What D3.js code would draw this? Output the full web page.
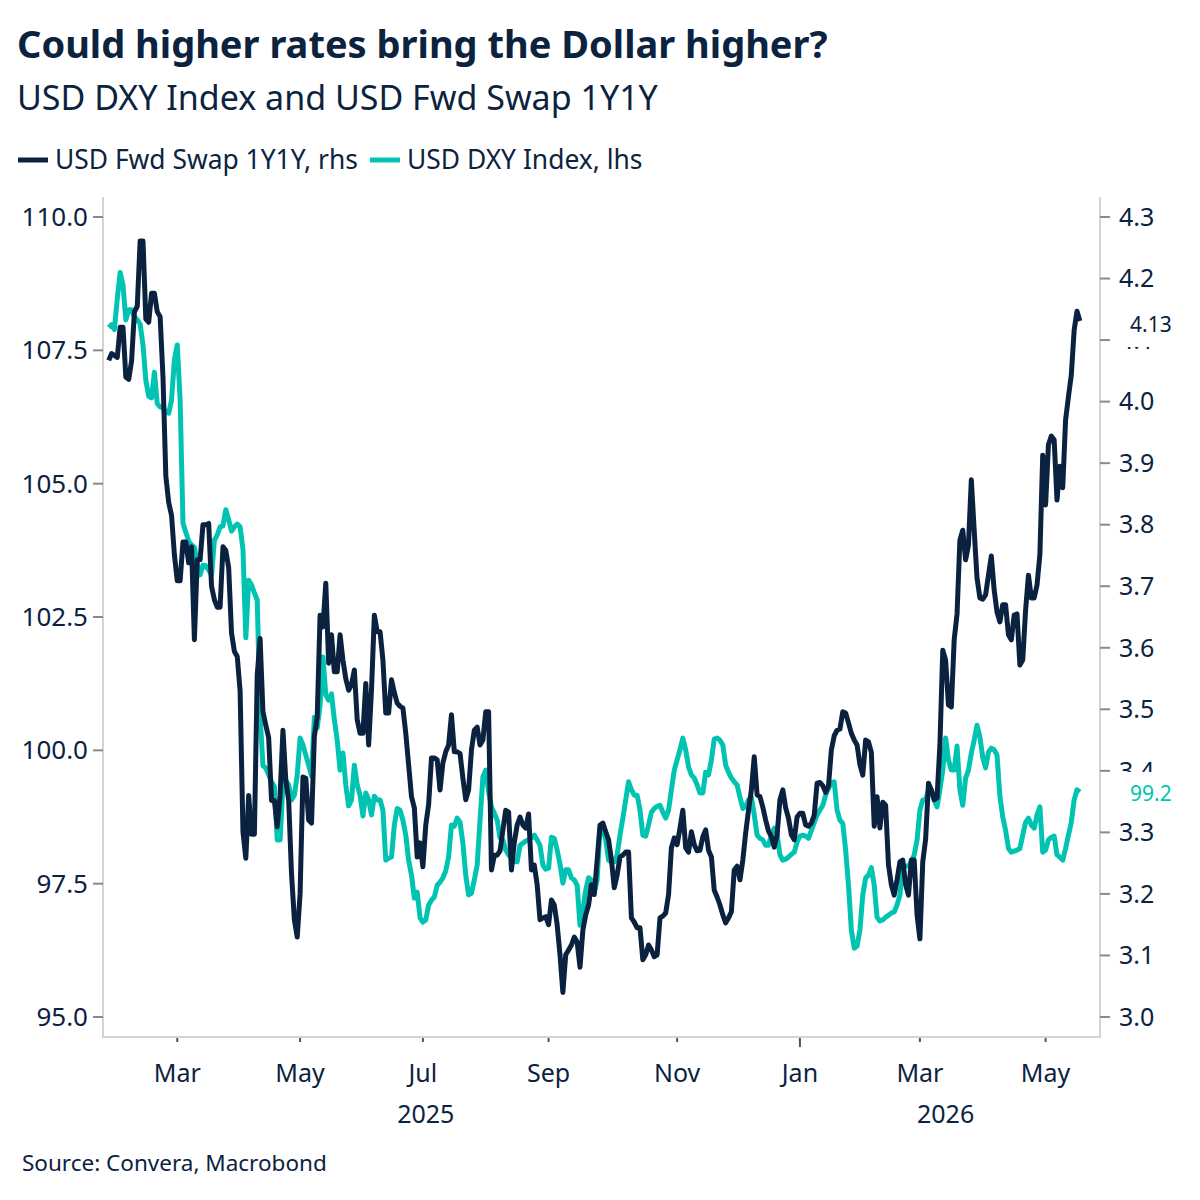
<!DOCTYPE html>
<html>
<head>
<meta charset="utf-8">
<script src="https://cdn.jsdelivr.net/npm/d3@7"></script>
<style>
  body { margin: 0; background: #fff; }
  svg text { font-family: "Noto Sans", sans-serif; fill: #0c2340; }
</style>
</head>
<body>
<svg id="chart" width="1200" height="1200"></svg>
<script>
// USD Fwd Swap 1Y1Y (rhs), daily business days
const swapSeries = [
  ["2025-01-28",4.067],["2025-01-29",4.078],["2025-01-30",4.075],["2025-01-31",4.072],
  ["2025-02-03",4.121],["2025-02-04",4.121],["2025-02-05",4.040],["2025-02-06",4.036],["2025-02-07",4.066],
  ["2025-02-10",4.146],["2025-02-11",4.155],["2025-02-12",4.261],["2025-02-13",4.261],["2025-02-14",4.134],
  ["2025-02-17",4.129],["2025-02-18",4.176],["2025-02-19",4.176],["2025-02-20",4.146],["2025-02-21",4.138],
  ["2025-02-24",4.040],["2025-02-25",3.879],["2025-02-26",3.836],["2025-02-27",3.815],["2025-02-28",3.751],
  ["2025-03-03",3.709],["2025-03-04",3.709],["2025-03-05",3.772],["2025-03-06",3.772],["2025-03-07",3.738],
  ["2025-03-10",3.764],["2025-03-11",3.613],["2025-03-12",3.743],["2025-03-13",3.743],["2025-03-14",3.800],
  ["2025-03-17",3.800],["2025-03-18",3.802],["2025-03-19",3.700],["2025-03-20",3.678],["2025-03-21",3.666],
  ["2025-03-24",3.666],["2025-03-25",3.764],["2025-03-26",3.758],["2025-03-27",3.730],["2025-03-28",3.624],
  ["2025-03-31",3.594],["2025-04-01",3.586],["2025-04-02",3.530],["2025-04-03",3.301],["2025-04-04",3.258],
  ["2025-04-07",3.360],["2025-04-08",3.297],["2025-04-09",3.297],["2025-04-10",3.556],["2025-04-11",3.615],
  ["2025-04-14",3.496],["2025-04-15",3.474],["2025-04-16",3.454],["2025-04-17",3.352],["2025-04-18",3.352],
  ["2025-04-21",3.309],["2025-04-22",3.360],["2025-04-23",3.466],["2025-04-24",3.385],["2025-04-25",3.352],
  ["2025-04-28",3.233],["2025-04-29",3.158],["2025-04-30",3.130],["2025-05-01",3.200],["2025-05-02",3.390],
  ["2025-05-05",3.388],["2025-05-06",3.320],["2025-05-07",3.315],["2025-05-08",3.456],["2025-05-09",3.488],
  ["2025-05-12",3.653],["2025-05-13",3.634],["2025-05-14",3.705],["2025-05-15",3.575],["2025-05-16",3.621],
  ["2025-05-19",3.561],["2025-05-20",3.561],["2025-05-21",3.621],["2025-05-22",3.580],["2025-05-23",3.550],
  ["2025-05-26",3.531],["2025-05-27",3.540],["2025-05-28",3.564],["2025-05-29",3.483],["2025-05-30",3.461],
  ["2025-06-02",3.461],["2025-06-03",3.542],["2025-06-04",3.442],["2025-06-05",3.531],["2025-06-06",3.653],
  ["2025-06-09",3.626],["2025-06-10",3.626],["2025-06-11",3.580],["2025-06-12",3.494],["2025-06-13",3.494],
  ["2025-06-16",3.548],["2025-06-17",3.527],["2025-06-18",3.510],["2025-06-19",3.505],["2025-06-20",3.502],
  ["2025-06-23",3.461],["2025-06-24",3.410],["2025-06-25",3.358],["2025-06-26",3.340],["2025-06-27",3.260],
  ["2025-06-30",3.283],["2025-07-01",3.244],["2025-07-02",3.312],["2025-07-03",3.345],["2025-07-04",3.421],
  ["2025-07-07",3.421],["2025-07-08",3.418],["2025-07-09",3.369],["2025-07-10",3.413],["2025-07-11",3.431],
  ["2025-07-14",3.442],["2025-07-15",3.491],["2025-07-16",3.431],["2025-07-17",3.431],["2025-07-18",3.428],
  ["2025-07-21",3.388],["2025-07-22",3.353],["2025-07-23",3.369],["2025-07-24",3.434],["2025-07-25",3.466],
  ["2025-07-28",3.471],["2025-07-29",3.442],["2025-07-30",3.450],["2025-07-31",3.496],["2025-08-01",3.496],
  ["2025-08-04",3.239],["2025-08-05",3.263],["2025-08-06",3.263],["2025-08-07",3.270],["2025-08-08",3.304],
  ["2025-08-11",3.336],["2025-08-12",3.333],["2025-08-13",3.239],["2025-08-14",3.284],["2025-08-15",3.312],
  ["2025-08-18",3.325],["2025-08-19",3.312],["2025-08-20",3.307],["2025-08-21",3.330],["2025-08-22",3.239],
  ["2025-08-25",3.247],["2025-08-26",3.215],["2025-08-27",3.158],["2025-08-28",3.161],["2025-08-29",3.163],
  ["2025-09-01",3.150],["2025-09-02",3.190],["2025-09-03",3.182],["2025-09-04",3.150],["2025-09-05",3.101],
  ["2025-09-08",3.040],["2025-09-09",3.101],["2025-09-10",3.109],["2025-09-11",3.117],["2025-09-12",3.130],
  ["2025-09-15",3.122],["2025-09-16",3.081],["2025-09-17",3.141],["2025-09-18",3.166],["2025-09-19",3.182],
  ["2025-09-22",3.215],["2025-09-23",3.199],["2025-09-24",3.255],["2025-09-25",3.312],["2025-09-26",3.315],
  ["2025-09-29",3.301],["2025-09-30",3.288],["2025-10-01",3.255],["2025-10-02",3.210],["2025-10-03",3.231],
  ["2025-10-06",3.260],["2025-10-07",3.263],["2025-10-08",3.268],["2025-10-09",3.268],["2025-10-10",3.161],
  ["2025-10-13",3.154],["2025-10-14",3.145],["2025-10-15",3.145],["2025-10-16",3.093],["2025-10-17",3.101],
  ["2025-10-20",3.117],["2025-10-21",3.109],["2025-10-22",3.098],["2025-10-23",3.101],["2025-10-24",3.161],
  ["2025-10-27",3.164],["2025-10-28",3.169],["2025-10-29",3.199],["2025-10-30",3.275],["2025-10-31",3.291],
  ["2025-11-03",3.280],["2025-11-04",3.307],["2025-11-05",3.336],["2025-11-06",3.275],["2025-11-07",3.268],
  ["2025-11-10",3.301],["2025-11-11",3.280],["2025-11-12",3.270],["2025-11-13",3.271],["2025-11-14",3.293],
  ["2025-11-17",3.304],["2025-11-18",3.271],["2025-11-19",3.260],["2025-11-20",3.206],["2025-11-21",3.195],
  ["2025-11-24",3.182],["2025-11-25",3.166],["2025-11-26",3.153],["2025-11-27",3.161],["2025-11-28",3.171],
  ["2025-12-01",3.239],["2025-12-02",3.245],["2025-12-03",3.223],["2025-12-04",3.255],["2025-12-05",3.299],
  ["2025-12-08",3.336],["2025-12-09",3.369],["2025-12-10",3.423],["2025-12-11",3.361],["2025-12-12",3.358],
  ["2025-12-15",3.341],["2025-12-16",3.320],["2025-12-17",3.302],["2025-12-18",3.293],["2025-12-19",3.276],
  ["2025-12-22",3.296],["2025-12-23",3.353],["2025-12-24",3.369],["2025-12-25",3.340],["2025-12-26",3.323],
  ["2025-12-29",3.296],["2025-12-30",3.288],["2025-12-31",3.325],["2026-01-01",3.331],["2026-01-02",3.331],
  ["2026-01-05",3.312],["2026-01-06",3.310],["2026-01-07",3.315],["2026-01-08",3.328],["2026-01-09",3.380],
  ["2026-01-12",3.381],["2026-01-13",3.376],["2026-01-14",3.365],["2026-01-15",3.376],["2026-01-16",3.434],
  ["2026-01-19",3.457],["2026-01-20",3.466],["2026-01-21",3.468],["2026-01-22",3.496],["2026-01-23",3.494],
  ["2026-01-26",3.478],["2026-01-27",3.461],["2026-01-28",3.450],["2026-01-29",3.442],["2026-01-30",3.410],
  ["2026-02-02",3.393],["2026-02-03",3.450],["2026-02-04",3.447],["2026-02-05",3.430],["2026-02-06",3.310],
  ["2026-02-09",3.358],["2026-02-10",3.307],["2026-02-11",3.349],["2026-02-12",3.344],["2026-02-13",3.247],
  ["2026-02-16",3.215],["2026-02-17",3.198],["2026-02-18",3.223],["2026-02-19",3.252],["2026-02-20",3.255],
  ["2026-02-23",3.215],["2026-02-24",3.198],["2026-02-25",3.255],["2026-02-26",3.255],["2026-02-27",3.166],
  ["2026-03-02",3.127],["2026-03-03",3.252],["2026-03-04",3.289],["2026-03-05",3.380],["2026-03-06",3.369],
  ["2026-03-09",3.353],["2026-03-10",3.356],["2026-03-11",3.442],["2026-03-12",3.596],["2026-03-13",3.580],
  ["2026-03-16",3.507],["2026-03-17",3.504],["2026-03-18",3.613],["2026-03-19",3.655],["2026-03-20",3.775],
  ["2026-03-23",3.791],["2026-03-24",3.743],["2026-03-25",3.767],["2026-03-26",3.873],["2026-03-27",3.791],
  ["2026-03-30",3.713],["2026-03-31",3.681],["2026-04-01",3.679],["2026-04-02",3.686],["2026-04-03",3.718],
  ["2026-04-06",3.749],["2026-04-07",3.694],["2026-04-08",3.658],["2026-04-09",3.642],["2026-04-10",3.670],
  ["2026-04-13",3.670],["2026-04-14",3.621],["2026-04-15",3.613],["2026-04-16",3.653],["2026-04-17",3.655],
  ["2026-04-20",3.572],["2026-04-21",3.580],["2026-04-22",3.661],["2026-04-23",3.718],["2026-04-24",3.681],
  ["2026-04-27",3.681],["2026-04-28",3.702],["2026-04-29",3.751],["2026-04-30",3.913],["2026-05-01",3.832],
  ["2026-05-04",3.930],["2026-05-05",3.944],["2026-05-06",3.938],["2026-05-07",3.840],["2026-05-08",3.895],
  ["2026-05-11",3.860],["2026-05-12",3.970],["2026-05-13",4.008],["2026-05-14",4.043],["2026-05-15",4.116],
  ["2026-05-18",4.147],["2026-05-19",4.131]
];

// USD DXY Index (lhs)
const dxySeries = [
  ["2025-01-28",107.93],["2025-01-29",107.98],["2025-01-30",107.89],["2025-01-31",108.47],
  ["2025-02-03",108.96],["2025-02-04",108.72],["2025-02-05",108.07],["2025-02-06",108.26],["2025-02-07",108.26],
  ["2025-02-10",108.13],["2025-02-11",108.07],["2025-02-12",107.99],["2025-02-13",107.60],["2025-02-14",106.94],
  ["2025-02-17",106.64],["2025-02-18",106.61],["2025-02-19",107.09],["2025-02-20",106.50],["2025-02-21",106.44],
  ["2025-02-24",106.42],["2025-02-25",106.34],["2025-02-26",106.32],["2025-02-27",106.57],["2025-02-28",107.32],
  ["2025-03-03",107.60],["2025-03-04",106.57],["2025-03-05",104.26],["2025-03-06",104.09],["2025-03-07",103.92],
  ["2025-03-10",103.85],["2025-03-11",103.81],["2025-03-12",103.47],["2025-03-13",103.29],["2025-03-14",103.47],
  ["2025-03-17",103.46],["2025-03-18",103.38],["2025-03-19",103.29],["2025-03-20",103.94],["2025-03-21",104.04],
  ["2025-03-24",104.19],["2025-03-25",104.21],["2025-03-26",104.51],["2025-03-27",104.32],["2025-03-28",104.11],
  ["2025-03-31",104.19],["2025-04-01",104.24],["2025-04-02",104.19],["2025-04-03",103.77],["2025-04-04",102.11],
  ["2025-04-07",103.19],["2025-04-08",103.10],["2025-04-09",102.95],["2025-04-10",102.82],["2025-04-11",100.66],
  ["2025-04-14",99.71],["2025-04-15",99.67],["2025-04-16",99.54],["2025-04-17",99.41],["2025-04-18",99.32],
  ["2025-04-21",98.32],["2025-04-22",98.32],["2025-04-23",99.35],["2025-04-24",99.44],["2025-04-25",99.35],
  ["2025-04-28",99.07],["2025-04-29",99.16],["2025-04-30",99.54],["2025-05-01",100.23],["2025-05-02",100.10],
  ["2025-05-05",99.91],["2025-05-06",99.72],["2025-05-07",99.52],["2025-05-08",100.62],["2025-05-09",100.42],
  ["2025-05-12",100.85],["2025-05-13",101.75],["2025-05-14",101.04],["2025-05-15",100.94],["2025-05-16",101.06],
  ["2025-05-19",100.57],["2025-05-20",100.19],["2025-05-21",99.63],["2025-05-22",99.95],["2025-05-23",99.35],
  ["2025-05-26",98.96],["2025-05-27",99.07],["2025-05-28",99.72],["2025-05-29",99.35],["2025-05-30",99.16],
  ["2025-06-02",98.77],["2025-06-03",99.20],["2025-06-04",99.07],["2025-06-05",98.79],["2025-06-06",99.14],
  ["2025-06-09",99.07],["2025-06-10",99.07],["2025-06-11",98.88],["2025-06-12",97.94],["2025-06-13",97.98],
  ["2025-06-16",98.00],["2025-06-17",98.60],["2025-06-18",98.91],["2025-06-19",98.88],["2025-06-20",98.69],
  ["2025-06-23",98.41],["2025-06-24",97.94],["2025-06-25",97.66],["2025-06-26",97.23],["2025-06-27",97.34],
  ["2025-06-30",96.86],["2025-07-01",96.78],["2025-07-02",96.82],["2025-07-03",97.10],["2025-07-04",97.19],
  ["2025-07-07",97.25],["2025-07-08",97.47],["2025-07-09",97.53],["2025-07-10",97.61],["2025-07-11",97.74],
  ["2025-07-14",98.00],["2025-07-15",98.60],["2025-07-16",98.58],["2025-07-17",98.73],["2025-07-18",98.65],
  ["2025-07-21",98.26],["2025-07-22",97.66],["2025-07-23",97.29],["2025-07-24",97.32],["2025-07-25",97.57],
  ["2025-07-28",97.85],["2025-07-29",98.69],["2025-07-30",99.50],["2025-07-31",99.63],["2025-08-01",99.22],
  ["2025-08-04",98.94],["2025-08-05",98.82],["2025-08-06",98.69],["2025-08-07",98.36],["2025-08-08",98.32],
  ["2025-08-11",98.13],["2025-08-12",98.04],["2025-08-13",97.98],["2025-08-14",97.91],["2025-08-15",97.91],
  ["2025-08-18",98.22],["2025-08-19",98.26],["2025-08-20",98.30],["2025-08-21",98.32],["2025-08-22",98.36],
  ["2025-08-25",98.41],["2025-08-26",98.32],["2025-08-27",98.22],["2025-08-28",97.85],["2025-08-29",97.77],
  ["2025-09-01",97.79],["2025-09-02",98.37],["2025-09-03",98.35],["2025-09-04",98.13],["2025-09-05",97.87],
  ["2025-09-08",97.51],["2025-09-09",97.76],["2025-09-10",97.76],["2025-09-11",97.61],["2025-09-12",97.57],
  ["2025-09-15",97.47],["2025-09-16",96.72],["2025-09-17",97.01],["2025-09-18",97.38],["2025-09-19",97.61],
  ["2025-09-22",97.57],["2025-09-23",97.34],["2025-09-24",97.57],["2025-09-25",98.54],["2025-09-26",98.54],
  ["2025-09-29",98.32],["2025-09-30",97.94],["2025-10-01",97.91],["2025-10-02",97.91],["2025-10-03",98.04],
  ["2025-10-06",98.41],["2025-10-07",98.73],["2025-10-08",99.07],["2025-10-09",99.41],["2025-10-10",99.26],
  ["2025-10-13",99.16],["2025-10-14",99.16],["2025-10-15",98.88],["2025-10-16",98.41],["2025-10-17",98.39],
  ["2025-10-20",98.60],["2025-10-21",98.84],["2025-10-22",98.91],["2025-10-23",98.95],["2025-10-24",98.97],
  ["2025-10-27",98.84],["2025-10-28",98.73],["2025-10-29",98.88],["2025-10-30",99.26],["2025-10-31",99.63],
  ["2025-11-03",99.82],["2025-11-04",100.01],["2025-11-05",100.23],["2025-11-06",100.01],["2025-11-07",99.69],
  ["2025-11-10",99.54],["2025-11-11",99.48],["2025-11-12",99.35],["2025-11-13",99.20],["2025-11-14",99.20],
  ["2025-11-17",99.59],["2025-11-18",99.54],["2025-11-19",99.82],["2025-11-20",100.21],["2025-11-21",100.23],
  ["2025-11-24",100.19],["2025-11-25",100.10],["2025-11-26",99.72],["2025-11-27",99.59],["2025-11-28",99.48],
  ["2025-12-01",99.41],["2025-12-02",99.35],["2025-12-03",99.12],["2025-12-04",98.91],["2025-12-05",98.95],
  ["2025-12-08",99.07],["2025-12-09",99.12],["2025-12-10",98.79],["2025-12-11",98.41],["2025-12-12",98.35],
  ["2025-12-15",98.32],["2025-12-16",98.22],["2025-12-17",98.22],["2025-12-18",98.41],["2025-12-19",98.54],
  ["2025-12-22",98.43],["2025-12-23",98.04],["2025-12-24",97.94],["2025-12-25",97.96],["2025-12-26",98.00],
  ["2025-12-29",98.05],["2025-12-30",98.09],["2025-12-31",98.28],["2026-01-01",98.39],["2026-01-02",98.41],
  ["2026-01-05",98.39],["2026-01-06",98.35],["2026-01-07",98.50],["2026-01-08",98.65],["2026-01-09",98.79],
  ["2026-01-12",98.88],["2026-01-13",98.97],["2026-01-14",99.16],["2026-01-15",99.29],["2026-01-16",99.39],
  ["2026-01-19",99.41],["2026-01-20",98.88],["2026-01-21",98.69],["2026-01-22",98.63],["2026-01-23",98.13],
  ["2026-01-26",97.47],["2026-01-27",96.63],["2026-01-28",96.29],["2026-01-29",96.33],["2026-01-30",96.63],
  ["2026-02-02",97.29],["2026-02-03",97.61],["2026-02-04",97.66],["2026-02-05",97.80],["2026-02-06",97.47],
  ["2026-02-09",96.87],["2026-02-10",96.80],["2026-02-11",96.82],["2026-02-12",96.87],["2026-02-13",96.91],
  ["2026-02-16",96.95],["2026-02-17",96.97],["2026-02-18",97.10],["2026-02-19",97.29],["2026-02-20",97.81],
  ["2026-02-23",97.83],["2026-02-24",97.83],["2026-02-25",97.91],["2026-02-26",98.04],["2026-02-27",98.32],
  ["2026-03-02",98.88],["2026-03-03",99.07],["2026-03-04",99.07],["2026-03-05",99.26],["2026-03-06",99.26],
  ["2026-03-09",99.07],["2026-03-10",98.94],["2026-03-11",99.26],["2026-03-12",99.63],["2026-03-13",100.23],
  ["2026-03-16",99.82],["2026-03-17",99.63],["2026-03-18",99.63],["2026-03-19",100.08],["2026-03-20",99.26],
  ["2026-03-23",98.97],["2026-03-24",99.48],["2026-03-25",99.63],["2026-03-26",99.95],["2026-03-27",100.19],
  ["2026-03-30",100.47],["2026-03-31",100.25],["2026-04-01",99.87],["2026-04-02",99.67],["2026-04-03",99.97],
  ["2026-04-06",100.04],["2026-04-07",100.01],["2026-04-08",99.91],["2026-04-09",99.14],["2026-04-10",98.75],
  ["2026-04-13",98.50],["2026-04-14",98.16],["2026-04-15",98.09],["2026-04-16",98.11],["2026-04-17",98.13],
  ["2026-04-20",98.16],["2026-04-21",98.41],["2026-04-22",98.65],["2026-04-23",98.73],["2026-04-24",98.60],
  ["2026-04-27",98.54],["2026-04-28",98.79],["2026-04-29",98.94],["2026-04-30",98.09],["2026-05-01",98.13],
  ["2026-05-04",98.32],["2026-05-05",98.37],["2026-05-06",98.39],["2026-05-07",98.04],["2026-05-08",98.00],
  ["2026-05-11",97.94],["2026-05-12",98.16],["2026-05-13",98.41],["2026-05-14",98.65],["2026-05-15",99.07],
  ["2026-05-18",99.26],["2026-05-19",99.22]
];

const leftTicks = [95, 97.5, 100, 102.5, 105, 107.5, 110];
const rightTicks = [3.0, 3.1, 3.2, 3.3, 3.4, 3.5, 3.6, 3.7, 3.8, 3.9, 4.0, 4.1, 4.2, 4.3];
const monthTicks = ["2025-03-01","2025-05-01","2025-07-01","2025-09-01","2025-11-01","2026-01-01","2026-03-01","2026-05-01"];
const yearLabels = [["2025","2025-07-02"],["2026","2026-03-13"]];
const axisStart = "2025-01-24", axisEnd = "2026-05-27";

const navy = "#0a2240", teal = "#00c4b1";
const parse = d3.timeParse("%Y-%m-%d");

// business-day axis: weekends take no room
const ref = new Date(2024, 11, 30); // a Monday
function bday(d) {
  const days = d3.timeDay.count(ref, d);
  return Math.floor(days / 7) * 5 + Math.min(days % 7, 5);
}

const plot = { left: 103, right: 1097, top: 197, bottom: 1037 };

const x = d3.scaleLinear()
  .domain([bday(parse(axisStart)), bday(parse(axisEnd))])
  .range([plot.left, plot.right]);
const yL = d3.scaleLinear().domain([95, 110]).range([1017, 217]);
const yR = d3.scaleLinear().domain([3.0, 4.3]).range([1017, 217]);

const svg = d3.select("#chart");

// titles
svg.append("text").attr("x", 17).attr("y", 58)
  .style("font-size", "38px").style("font-weight", "bold")
  .text("Could higher rates bring the Dollar higher?");
svg.append("text").attr("x", 17).attr("y", 110)
  .style("font-size", "34px")
  .text("USD DXY Index and USD Fwd Swap 1Y1Y");

// legend
const legend = svg.append("g").attr("transform", "translate(18,160)");
const legendItems = [
  { label: "USD Fwd Swap 1Y1Y, rhs", color: navy, x: 0 },
  { label: "USD DXY Index, lhs", color: teal, x: 352 }
];
legendItems.forEach(d => {
  legend.append("line").attr("x1", d.x).attr("x2", d.x + 30).attr("y1", 0).attr("y2", 0)
    .attr("stroke", d.color).attr("stroke-width", 5);
  legend.append("text").attr("x", d.x + 37).attr("y", 0).attr("dy", "0.35em")
    .style("font-size", "26.4px").text(d.label);
});

// frame
const frame = svg.append("g").attr("stroke", "#d4d4d4").attr("stroke-width", 2);
frame.append("line").attr("x1", plot.left).attr("x2", plot.left).attr("y1", plot.top).attr("y2", plot.bottom + 1);
frame.append("line").attr("x1", plot.right + 3).attr("x2", plot.right + 3).attr("y1", plot.top).attr("y2", plot.bottom + 1);
frame.append("line").attr("x1", plot.left).attr("x2", plot.right + 3).attr("y1", plot.bottom).attr("y2", plot.bottom);

// left axis
const gL = svg.append("g");
leftTicks.forEach(v => {
  gL.append("line").attr("x1", plot.left - 10).attr("x2", plot.left).attr("y1", yL(v)).attr("y2", yL(v))
    .attr("stroke", "#8a8a8a").attr("stroke-width", 2);
  gL.append("text").attr("x", 88).attr("y", yL(v)).attr("dy", "0.35em")
    .attr("text-anchor", "end").style("font-size", "26px").text(d3.format(".1f")(v));
});

// right axis
const gR = svg.append("g");
rightTicks.forEach(v => {
  gR.append("line").attr("x1", plot.right + 3).attr("x2", plot.right + 13).attr("y1", yR(v)).attr("y2", yR(v))
    .attr("stroke", "#8a8a8a").attr("stroke-width", 2);
  gR.append("text").attr("x", 1119).attr("y", yR(v)).attr("dy", "0.35em")
    .style("font-size", "25px").text(d3.format(".1f")(v));
});

// bottom axis
const gB = svg.append("g");
monthTicks.forEach(s => {
  const d = parse(s);
  const isJan = d.getMonth() === 0;
  gB.append("line").attr("x1", x(bday(d))).attr("x2", x(bday(d)))
    .attr("y1", plot.bottom + 1).attr("y2", plot.bottom + (isJan ? 10 : 5))
    .attr("stroke", "#555").attr("stroke-width", 2);
  gB.append("text").attr("x", x(bday(d))).attr("y", 1082)
    .attr("text-anchor", "middle").style("font-size", "25px").text(d3.timeFormat("%b")(d));
});
yearLabels.forEach(([label, s]) => {
  gB.append("text").attr("x", x(bday(parse(s)))).attr("y", 1123)
    .attr("text-anchor", "middle").style("font-size", "25px").text(label);
});

// lines
const lineSwap = d3.line().x(d => x(bday(parse(d[0])))).y(d => yR(d[1]));
const lineDxy = d3.line().x(d => x(bday(parse(d[0])))).y(d => yL(d[1]));

svg.append("path").datum(dxySeries).attr("d", lineDxy)
  .attr("fill", "none").attr("stroke", teal).attr("stroke-width", 5).attr("stroke-linejoin", "round");
svg.append("path").datum(swapSeries).attr("d", lineSwap)
  .attr("fill", "none").attr("stroke", navy).attr("stroke-width", 5).attr("stroke-linejoin", "round");

// end value labels, boxed in white over the right tick labels
const lastSwap = swapSeries[swapSeries.length - 1];
const lastDxy = dxySeries[dxySeries.length - 1];
const endLabels = [
  { y: yR(lastSwap[1]) + 4, text: d3.format(".2f")(lastSwap[1]), color: navy },
  { y: yL(lastDxy[1]) + 2, text: d3.format(".1f")(lastDxy[1]), color: teal }
];
endLabels.forEach(d => {
  svg.append("rect").attr("x", 1114).attr("y", d.y - 22).attr("width", 80).attr("height", 44).attr("fill", "#fff");
  svg.append("text").attr("x", 1130).attr("y", d.y).attr("dy", "0.35em")
    .style("font-size", "21px").style("fill", d.color).text(d.text);
});

// source
svg.append("text").attr("x", 22).attr("y", 1171).style("font-size", "22.5px")
  .text("Source: Convera, Macrobond");
</script>
</body>
</html>
